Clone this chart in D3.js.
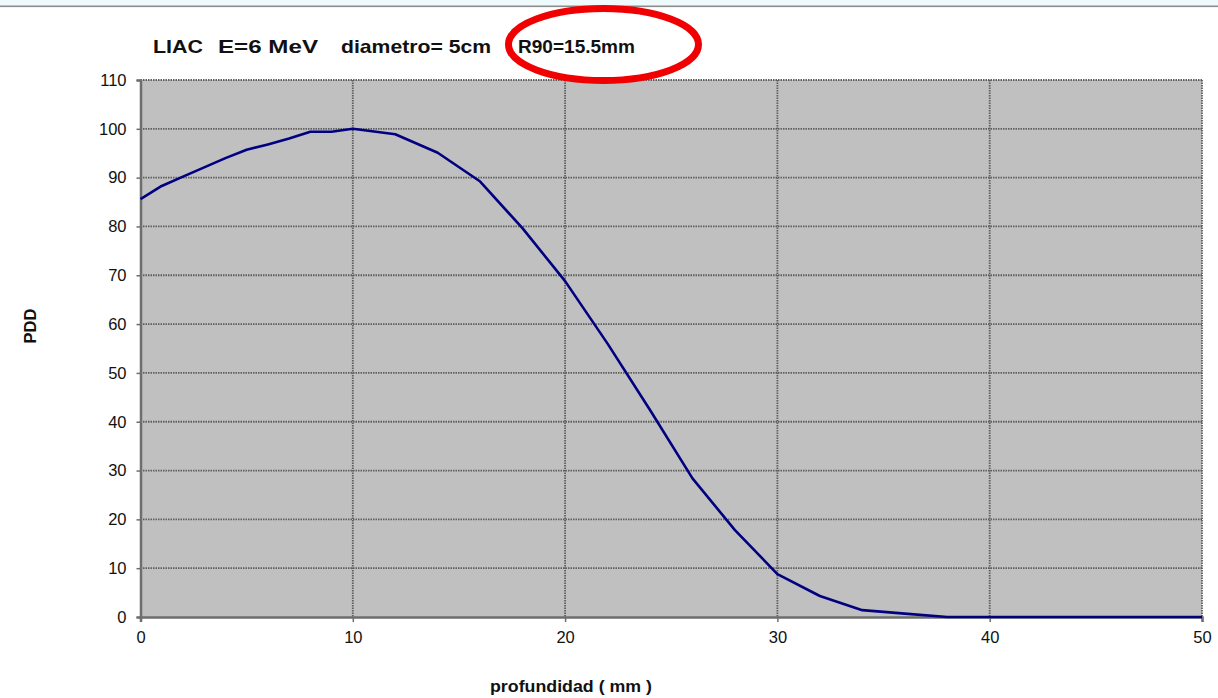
<!DOCTYPE html>
<html><head><meta charset="utf-8">
<script src="https://cdn.jsdelivr.net/npm/d3@7"></script>
<style>
html,body{margin:0;padding:0;background:#fff;}
svg{display:block;font-family:Arial,"Liberation Sans",sans-serif;}
</style></head>
<body>
<svg id="chart" width="1218" height="698"></svg>
<script>
const depth = [0,1,2,3,4,5,6,7,8,9,10,12,14,16,18,20,22,24,26,28,30,32,34,36,38,40,42,44,46,48,50];
const pdd   = [85.6,88.3,90.2,92.1,94,95.7,96.8,98,99.4,99.4,100,98.9,95.1,89.2,79.6,68.8,56,42.4,28.4,17.8,8.8,4.3,1.4,0.7,0,0,0,0,0,0,0];
const xTicks = [0,10,20,30,40,50];
const yTicks = [0,10,20,30,40,50,60,70,80,90,100,110];
const titleParts = ["LIAC", "E=6 MeV", "diametro= 5cm", "R90=15.5mm"];
const xLabel = "profundidad ( mm )";
const yLabel = "PDD";

const svg = d3.select("#chart");
const L = 140.5, R = 1202, T = 80, B = 617;
const x = d3.scaleLinear().domain([0,50]).range([L,R]);
const y = d3.scaleLinear().domain([0,110]).range([B,T]);

// top strip
svg.append("rect").attr("x",0).attr("y",0).attr("width",1218).attr("height",6).attr("fill","#eefafc");
svg.append("rect").attr("x",0).attr("y",5.5).attr("width",1218).attr("height",1.6).attr("fill","#8c8c8c");

// plot area
svg.append("rect").attr("x",L).attr("y",T).attr("width",R-L).attr("height",B-T).attr("fill","#c0c0c0");

// grid
const g = svg.append("g");
g.selectAll("line.h").data(yTicks.filter(d=>d>0)).join("line")
  .attr("x1",L).attr("x2",R).attr("y1",d=>y(d)).attr("y2",d=>y(d))
  .attr("stroke","#5e5e5e").attr("stroke-width",1.8).attr("stroke-dasharray","1.5,1");
g.selectAll("line.v").data(xTicks.filter(d=>d>0)).join("line")
  .attr("y1",T).attr("y2",B).attr("x1",d=>x(d)).attr("x2",d=>x(d))
  .attr("stroke","#5e5e5e").attr("stroke-width",1.8).attr("stroke-dasharray","1.5,1");

// axes
const xAxis = d3.axisBottom(x).tickValues(xTicks).tickSize(5).tickPadding(6).tickFormat(d3.format("d"));
const yAxis = d3.axisLeft(y).tickValues(yTicks).tickSize(4).tickPadding(10).tickFormat(d3.format("d"));
const gx = svg.append("g").attr("transform",`translate(0,${B})`).call(xAxis);
const gy = svg.append("g").attr("transform",`translate(${L},0)`).call(yAxis);
[gx,gy].forEach(a=>{
  a.select(".domain").attr("stroke","#6e6e6e").attr("stroke-width",2.5);
  a.selectAll(".tick line").attr("stroke","#6e6e6e").attr("stroke-width",1.5);
  a.selectAll(".tick text").attr("fill","#111").style("font-size","16.5px").style("font-family","Arial, 'Liberation Sans', sans-serif");
});
gx.selectAll(".tick text").attr("dy","0.9em");

// line
svg.append("path").datum(depth.map((d,i)=>[d,pdd[i]]))
  .attr("fill","none").attr("stroke","#000080").attr("stroke-width",2.6).attr("stroke-linejoin","round")
  .attr("d", d3.line().x(d=>x(d[0])).y(d=>y(d[1])));

// title
const tx = [153, 218, 341, 518];
const tw = [50, 100, 150, 117];
svg.append("g").selectAll("text").data(titleParts).join("text")
  .attr("x",(d,i)=>tx[i]).attr("y",53)
  .attr("textLength",(d,i)=>tw[i]).attr("lengthAdjust","spacingAndGlyphs")
  .style("font-size","18.5px").style("font-weight","bold").attr("fill","#111").text(d=>d);

// red ellipse
svg.append("ellipse").attr("cx",603.5).attr("cy",44.5).attr("rx",95).attr("ry",36)
  .attr("fill","none").attr("stroke","#f00000").attr("stroke-width",7);

// axis labels
svg.append("text").attr("x",571).attr("y",692).attr("text-anchor","middle")
  .attr("textLength",162).attr("lengthAdjust","spacingAndGlyphs")
  .style("font-size","17px").style("font-weight","bold").attr("fill","#111").text(xLabel);
svg.append("text").attr("transform","translate(36,326) rotate(-90)").attr("text-anchor","middle")
  .attr("textLength",35).attr("lengthAdjust","spacingAndGlyphs")
  .style("font-size","17px").style("font-weight","bold").attr("fill","#111").text(yLabel);
</script>
</body></html>
